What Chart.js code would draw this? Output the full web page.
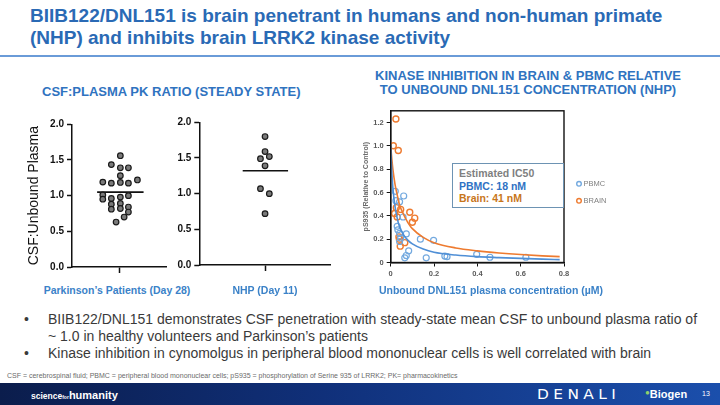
<!DOCTYPE html>
<html>
<head>
<meta charset="utf-8">
<script src="https://cdn.jsdelivr.net/npm/chart.js@4.4.1/dist/chart.umd.min.js"></script>
<style>
  html, body { margin:0; padding:0; background:#fff; }
  body { width:720px; height:405px; position:relative; overflow:hidden; font-family:"Liberation Sans", Arial, sans-serif; }
  .abs { position:absolute; white-space:nowrap; }
  .title { left:30px; top:5px; font-size:19px; font-weight:bold; color:#2a6ab5; line-height:21.7px; }
  .rule { left:0; top:55px; width:720px; height:2px; background:#6a9bd8; }
  .head { font-size:13px; font-weight:bold; color:#2f73c0; text-align:center; line-height:14px; }
  .lab { font-size:10.5px; font-weight:bold; color:#3b82c8; text-align:center; transform:translateX(-50%); }
  canvas { position:absolute; }
  .ic50 { left:452px; top:163px; border:1.5px solid #6d93b3; background:#fff; font-size:10.5px; font-weight:bold; line-height:12.5px; padding:3px 0 0 6px; box-sizing:border-box; width:112px; height:45px; }
  .bul { font-size:14px; color:#3a3a3a; line-height:17px; }
  .foot { left:7px; top:372px; font-size:7px; color:#6b6b6b; }
  .bar { left:0; top:383px; width:720px; height:22px; background:linear-gradient(90deg,#0b1d4c 0%,#10307a 45%,#1b4fac 100%); }
</style>
</head>
<body>
<div class="abs title">BIIB122/DNL151 is brain penetrant in humans and non-human primate<br>(NHP) and inhibits brain LRRK2 kinase activity</div>
<div class="abs rule"></div>

<div class="abs head" style="left:42px; top:85px;">CSF:PLASMA PK RATIO (STEADY STATE)</div>
<div class="abs head" style="left:350px; top:69px; width:356px;">KINASE INHIBITION IN BRAIN &amp; PBMC RELATIVE<br>TO UNBOUND DNL151 CONCENTRATION (NHP)</div>

<canvas id="pd" width="152" height="164" style="left:20px; top:112px;"></canvas>
<canvas id="nhp" width="176" height="164" style="left:160px; top:110px;"></canvas>
<canvas id="kin" width="280" height="184" style="left:350px; top:98px;"></canvas>

<div class="abs ic50"><span style="color:#7f7f7f">Estimated IC50</span><br><span style="color:#2f72c4">PBMC: 18 nM</span><br><span style="color:#c8761a">Brain: 41 nM</span></div>

<div class="abs lab" style="left:117px; top:284px;">Parkinson’s Patients (Day 28)</div>
<div class="abs lab" style="left:265px; top:284px;">NHP (Day 11)</div>
<div class="abs lab" style="left:491px; top:284px;">Unbound DNL151 plasma concentration (µM)</div>

<div class="abs bul" style="left:24px; top:311px;">•</div>
<div class="abs bul" style="left:48px; top:311px;">BIIB122/DNL151 demonstrates CSF penetration with steady-state mean CSF to unbound plasma ratio of<br>~ 1.0 in healthy volunteers and Parkinson’s patients</div>
<div class="abs bul" style="left:24px; top:345px;">•</div>
<div class="abs bul" style="left:48px; top:345px;">Kinase inhibition in cynomolgus in peripheral blood mononuclear cells is well correlated with brain</div>

<div class="abs foot">CSF = cerebrospinal fluid; PBMC = peripheral blood mononuclear cells; pS935 = phosphorylation of Serine 935 of LRRK2; PK= pharmacokinetics</div>

<div class="abs bar"></div>
<div class="abs" style="left:31px; top:389px; color:#fff; font-weight:bold; font-size:11px;"><span style="font-size:8.5px">science</span><span style="font-size:5px">for</span>humanity</div>
<div class="abs" style="left:537px; top:386px; color:#fff; font-size:14px; letter-spacing:4px; font-family:'DejaVu Sans',sans-serif; transform:scaleX(1.1); transform-origin:left;">DENALI</div>
<div class="abs" style="left:645px; top:388px; color:#fff; font-size:11px; font-weight:bold;"><span style="color:#8fd16a; font-size:8px; vertical-align:top;">●</span>Biogen</div>
<div class="abs" style="left:702px; top:390px; color:#fff; font-size:7px;">13</div>

<script>
// ---------- DATA ----------
// CSF:Unbound plasma ratio, Parkinson's patients (Day 28); x = horizontal spread within the column
const pdSpread = [0.02,-0.17,0.02,0.19,0.02,-0.35,-0.17,0.02,0.19,0.38,-0.35,-0.35,-0.17,0.02,0.19,-0.17,0.02,-0.17,0.02,0.19,0.19,-0.07,0.10];
const pdRatio  = [1.56,1.435,1.39,1.39,1.28,1.19,1.175,1.185,1.175,1.22,1.01,0.95,0.96,0.98,1.00,0.88,0.89,0.81,0.82,0.84,0.77,0.63,0.70];
const pdMean = 1.05;

// NHP (Day 11)
const nhpSpread = [0,0,-0.07,0.065,0,-0.07,0.065,0];
const nhpRatio  = [1.80,1.59,1.49,1.52,1.39,1.07,1.00,0.72];
const nhpMean = 1.32;

const ratioTicks = [0,0.5,1.0,1.5,2.0];

// Kinase inhibition vs unbound concentration (uM)
const pbmcConc  = [0.060,0.021,0.024,0.041,0.057,0.030,0.033,0.041,0.072,0.046,0.041,0.137,0.198,0.083,0.072,0.065,0.164,0.250,0.260,0.397,0.458,0.624];
const pbmcPS935 = [0.57,0.61,0.53,0.52,0.39,0.31,0.28,0.25,0.245,0.21,0.18,0.20,0.19,0.10,0.06,0.04,0.04,0.055,0.05,0.07,0.045,0.045];
const brainConc  = [0.024,0.012,0.035,0.026,0.046,0.018,0.030,0.088,0.111,0.100,0.038,0.040,0.065,0.044];
const brainPS935 = [1.23,1.00,0.96,0.47,0.455,0.42,0.39,0.43,0.38,0.345,0.22,0.20,0.17,0.14];

// fitted curves
const pbmcFitConc = [0,0.002,0.005,0.01,0.02,0.03,0.04,0.06,0.08,0.1,0.15,0.2,0.3,0.4,0.5,0.6,0.7,0.78];
const pbmcFitVal  = [1.0,0.90,0.78,0.64,0.48,0.38,0.31,0.235,0.19,0.16,0.115,0.088,0.064,0.05,0.042,0.035,0.029,0.025];
const brainFitConc = [0,0.005,0.01,0.02,0.03,0.04,0.06,0.08,0.1,0.15,0.2,0.3,0.4,0.5,0.6,0.7,0.78];
const brainFitVal  = [1.0,0.89,0.80,0.67,0.58,0.50,0.41,0.34,0.29,0.215,0.17,0.125,0.1,0.082,0.068,0.057,0.05];
const kinYTicks = [0,0.2,0.4,0.6,0.8,1.0,1.2];
const kinXTicks = [0,0.2,0.4,0.6,0.8];

const seriesNames = ['PBMC','BRAIN'];
// ---------- END DATA ----------

Chart.defaults.font.family = '"Liberation Sans", Arial, sans-serif';
Chart.defaults.animation = false;

const pts = (xs, ys) => xs.map((x, i) => ({x: x, y: ys[i]}));

function dotChart(id, spread, ratio, mean, yWidth, titleText, padTop, meanHalf) {
  const yScale = {
    type: 'linear', min: 0, max: 2,
    afterBuildTicks: s => { s.ticks = ratioTicks.map(v => ({value: v})); },
    afterFit: s => { s.width = yWidth; },
    border: { color: '#111', width: 1.5 },
    grid: { drawOnChartArea: false, drawTicks: true, tickLength: 5, color: '#111', tickWidth: 1.5 },
    ticks: { color: '#111', font: { size: 10, weight: 'bold' }, padding: 3, callback: v => Number(v).toFixed(1) },
    title: titleText ? { display: true, text: titleText, color: '#111', font: { size: 14 }, padding: { top: 6, bottom: 0 } } : { display: false }
  };
  return new Chart(document.getElementById(id), {
    type: 'scatter',
    data: {
      datasets: [
        { type: 'scatter', data: pts(spread, ratio), pointRadius: 2.8, pointBackgroundColor: '#7a7a7a', pointBorderColor: '#1a1a1a', pointBorderWidth: 1.2 },
        { type: 'line', data: [{x: -meanHalf[0], y: mean}, {x: meanHalf[1], y: mean}], borderColor: '#111', borderWidth: 1.6, pointRadius: 0 }
      ]
    },
    options: {
      responsive: false, devicePixelRatio: 1,
      layout: { padding: { top: padTop, right: 4, left: 0, bottom: 0 } },
      plugins: { legend: { display: false }, tooltip: { enabled: false } },
      scales: {
        x: {
          type: 'linear', min: -1, max: 1,
          afterBuildTicks: s => { s.ticks = [{value: 0}]; },
          afterFit: s => { s.height = 8; },
          border: { color: '#111', width: 1.5 },
          grid: { drawOnChartArea: false, drawTicks: true, tickLength: 6, color: '#111', tickWidth: 1.5 },
          ticks: { display: false }
        },
        y: yScale
      }
    }
  });
}

dotChart('pd', pdSpread, pdRatio, pdMean, 52, 'CSF:Unbound Plasma', 12.3, [0.47, 0.51]);
dotChart('nhp', nhpSpread, nhpRatio, nhpMean, 39.3, null, 12.3, [0.34, 0.35]);

const boxPlugin = {
  id: 'boxAndLegend',
  afterDraw(chart) {
    const a = chart.chartArea, ctx = chart.ctx;
    ctx.save();
    ctx.strokeStyle = '#111'; ctx.lineWidth = 1.4;
    ctx.strokeRect(a.left, a.top, a.right - a.left, a.bottom - a.top);
    // legend
    const items = chart.data.datasets.filter(d => d.showInLegend);
    items.forEach((d, i) => {
      const y = a.top + 73 + i * 17;
      const x = a.right + 15;
      ctx.beginPath(); ctx.arc(x, y, 2.3, 0, Math.PI * 2);
      ctx.strokeStyle = d.borderColor; ctx.lineWidth = 1.4; ctx.stroke();
      ctx.fillStyle = '#7f7f7f'; ctx.font = '7.5px "Liberation Sans", Arial, sans-serif';
      ctx.textBaseline = 'middle'; ctx.fillText(d.label, x + 4.5, y + 0.5);
    });
    ctx.restore();
  }
};

new Chart(document.getElementById('kin'), {
  type: 'scatter',
  data: {
    datasets: [
      { type: 'line', label: 'PBMC fit', data: pts(pbmcFitConc, pbmcFitVal), borderColor: '#4f8fd6', borderWidth: 1.6, pointRadius: 0, tension: 0.4, cubicInterpolationMode: 'monotone' },
      { type: 'line', label: 'BRAIN fit', data: pts(brainFitConc, brainFitVal), borderColor: '#ee7b30', borderWidth: 1.6, pointRadius: 0, tension: 0.4, cubicInterpolationMode: 'monotone' },
      { label: seriesNames[0], showInLegend: true, data: pts(pbmcConc, pbmcPS935), borderColor: '#73a9df', pointBorderColor: '#73a9df', pointBackgroundColor: 'rgba(0,0,0,0)', pointRadius: 3, pointBorderWidth: 1.2 },
      { label: seriesNames[1], showInLegend: true, data: pts(brainConc, brainPS935), borderColor: '#ee7b30', pointBorderColor: '#ee7b30', pointBackgroundColor: 'rgba(0,0,0,0)', pointRadius: 3, pointBorderWidth: 1.4 }
    ]
  },
  options: {
    responsive: false, devicePixelRatio: 1,
    layout: { padding: { top: 12.8, right: 66, left: 0, bottom: 0 } },
    plugins: { legend: { display: false }, tooltip: { enabled: false } },
    scales: {
      x: {
        type: 'linear', min: 0, max: 0.8,
        afterBuildTicks: s => { s.ticks = kinXTicks.map(v => ({value: v})); },
        afterFit: s => { s.height = 19.5; },
        border: { color: '#111', width: 1.4 },
        grid: { drawOnChartArea: false, drawTicks: true, tickLength: 4, color: '#111' },
        ticks: { color: '#5a5a5a', font: { size: 7.5, weight: 'bold' }, padding: 3, maxRotation: 0 }
      },
      y: {
        type: 'linear', min: 0, max: 1.3,
        afterBuildTicks: s => { s.ticks = kinYTicks.map(v => ({value: v})); },
        afterFit: s => { s.width = 40.7; },
        border: { color: '#111', width: 1.4 },
        grid: { drawOnChartArea: false, drawTicks: true, tickLength: 4, color: '#111' },
        ticks: { color: '#5a5a5a', font: { size: 7.5, weight: 'bold' }, padding: 3 },
        title: { display: true, text: 'pS935 (Relative to Control)', color: '#6a6a6a', font: { size: 7, weight: 'bold' }, padding: { top: 12, bottom: 0 } }
      }
    }
  },
  plugins: [boxPlugin]
});
</script>
</body>
</html>
